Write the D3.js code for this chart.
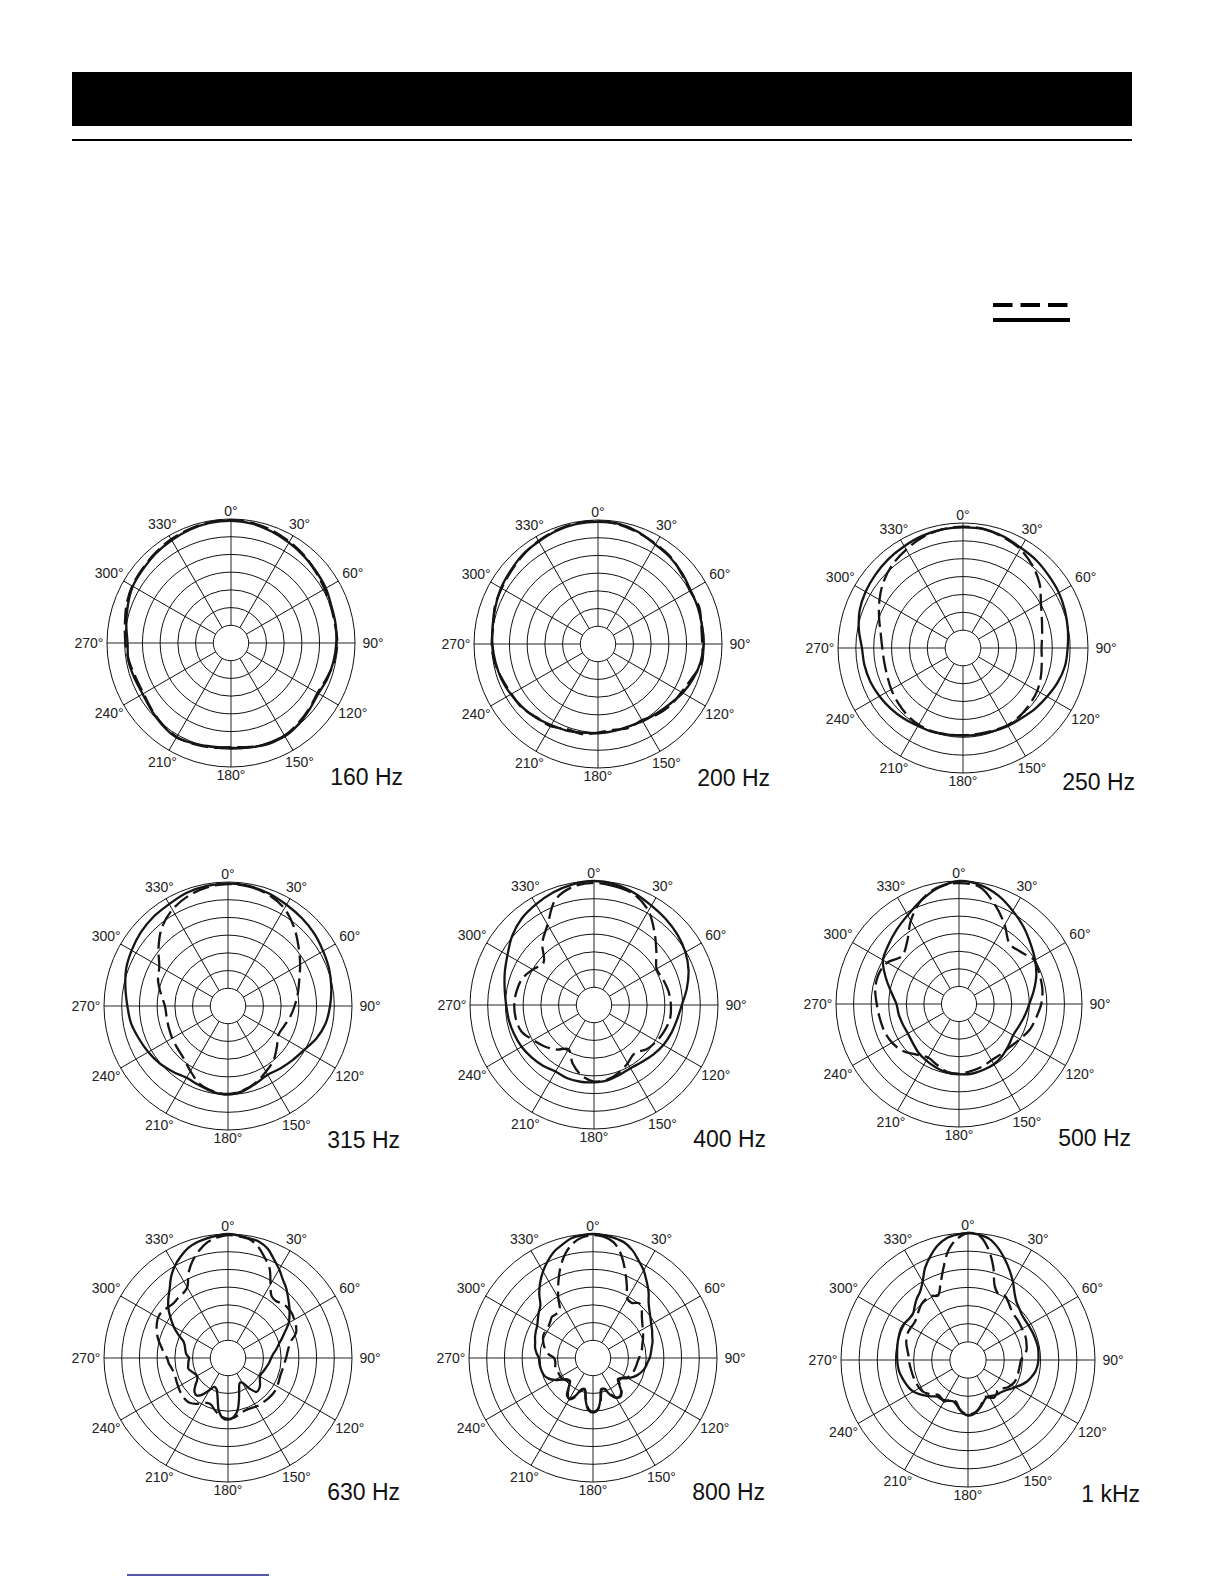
<!DOCTYPE html>
<html>
<head>
<meta charset="utf-8">
<script src="https://cdn.jsdelivr.net/npm/d3@7"></script>
<style>
    body { margin: 0; background: #fff; }
    svg { display: block; }
    text { font-family: "Liberation Sans", Arial, Helvetica, sans-serif; }
</style>
</head>
<body>
<svg id="page" width="1224" height="1584"></svg>
<script>
// Angles (degrees, clockwise from 0 = front)
const angles10 = [0, 10, 20, 30, 40, 50, 60, 70, 80, 90, 100, 110, 120, 130, 140, 150, 160, 170,
    180, 190, 200, 210, 220, 230, 240, 250, 260, 270, 280, 290, 300, 310, 320, 330, 340, 350];
const angles5 = [0, 5, 10, 15, 20, 25, 30, 35, 40, 45, 50, 55, 60, 65, 70, 75, 80, 85,
    90, 95, 100, 105, 110, 115, 120, 125, 130, 135, 140, 145, 150, 155, 160, 165, 170, 175,
    180, 185, 190, 195, 200, 205, 210, 215, 220, 225, 230, 235, 240, 245, 250, 255, 260, 265,
    270, 275, 280, 285, 290, 295, 300, 305, 310, 315, 320, 325, 330, 335, 340, 345, 350, 355];

const angleLabels = ['0°', '30°', '60°', '90°', '120°', '150°', '180°', '210°', '240°', '270°', '300°', '330°'];
const ringDb = [-30, -25, -20, -15, -10, -5, 0];
const frequencies = ['160 Hz', '200 Hz', '250 Hz', '315 Hz', '400 Hz', '500 Hz', '630 Hz', '800 Hz', '1 kHz'];

// Level in dB (solid and dashed traces)
const solid160 = [-0.5, -0.8, -1.5, -2.3, -3.0, -3.6, -4.1, -4.8, -5.0, -5.3, -5.6, -6.0,
    -6.5, -6.0, -5.2, -4.6, -4.8, -5.0, -5.4, -5.3, -4.8, -4.2, -4.8, -5.6,
    -6.2, -6.0, -5.6, -5.8, -5.0, -4.0, -3.0, -2.6, -2.0, -1.5, -1.0, -0.6];
const dashed160 = [-0.3, -0.6, -1.2, -2.0, -2.8, -3.8, -4.5, -5.0, -5.2, -5.0, -5.4, -6.2,
    -6.8, -6.2, -5.5, -4.8, -4.6, -5.2, -5.6, -5.0, -4.6, -4.4, -5.0, -5.8,
    -6.5, -6.4, -5.8, -5.2, -4.6, -3.6, -2.8, -2.4, -1.8, -1.2, -0.8, -0.4];

const solid200 = [-0.5, -0.6, -1.4, -2.6, -3.2, -4.0, -4.8, -5.0, -5.2, -5.2, -5.6, -6.4,
    -7.4, -8.6, -9.4, -9.8, -10.2, -10.0, -9.8, -9.6, -9.0, -8.6, -7.8, -7.2,
    -6.6, -6.0, -5.6, -5.2, -4.8, -4.2, -3.4, -2.8, -2.0, -1.6, -1.0, -0.6];
const dashed200 = [-0.3, -0.8, -1.6, -2.4, -3.0, -4.2, -5.0, -4.6, -5.4, -5.6, -5.2, -6.8,
    -7.8, -8.2, -9.0, -10.2, -9.8, -10.4, -10.0, -9.2, -9.4, -8.2, -8.0, -7.0,
    -6.8, -6.2, -5.4, -5.0, -5.0, -4.0, -3.6, -3.0, -2.2, -1.4, -0.8, -0.4];

const solid250 = [-1.2, -1.2, -1.8, -2.6, -3.0, -3.6, -4.0, -4.6, -5.2, -5.7, -6.0, -6.8,
    -7.8, -8.6, -9.4, -9.8, -10.2, -10.4, -10.5, -10.4, -10.0, -9.8, -9.2, -8.6,
    -8.0, -7.4, -7.0, -6.7, -5.4, -4.2, -3.5, -3.0, -2.5, -2.1, -1.6, -1.3];
const dashed250 = [-1.0, -1.2, -2.0, -3.0, -4.8, -7.0, -9.8, -11.5, -12.5, -13.0, -12.6, -11.8,
    -11.0, -10.6, -10.2, -10.0, -10.4, -10.6, -10.6, -10.4, -10.2, -10.2, -10.6, -11.2,
    -11.8, -12.4, -12.6, -12.4, -11.6, -10.0, -8.0, -6.0, -4.4, -3.2, -2.0, -1.3];

const solid315 = [-0.4, -0.6, -1.2, -2.0, -2.6, -3.2, -4.0, -4.6, -5.4, -6.2, -7.0, -8.4,
    -10.2, -11.2, -12.0, -12.6, -11.8, -10.6, -10.0, -10.4, -11.2, -11.6, -10.8, -9.8,
    -9.0, -8.2, -7.2, -6.6, -5.6, -4.4, -3.6, -2.8, -2.2, -1.8, -1.0, -0.6];
const dashed315 = [-0.6, -0.8, -1.6, -3.2, -6.0, -9.0, -11.5, -13.6, -15.0, -16.2, -17.2, -18.2,
    -18.6, -17.0, -15.0, -13.6, -12.0, -10.8, -10.2, -10.6, -11.6, -13.8, -15.6, -16.4,
    -16.8, -17.2, -17.4, -17.2, -15.8, -14.0, -12.6, -9.4, -6.0, -3.6, -2.0, -1.0];

const solid400 = [0.0, -0.4, -1.4, -2.6, -3.4, -4.2, -5.2, -6.6, -8.4, -10.2, -11.2, -11.8,
    -12.4, -13.2, -14.0, -14.4, -14.0, -13.4, -13.2, -13.0, -13.0, -13.3, -12.6, -12.0,
    -11.4, -11.0, -10.6, -10.2, -9.4, -8.2, -6.8, -4.8, -3.2, -2.2, -1.2, -0.4];
const dashed400 = [-0.5, -1.0, -1.8, -4.3, -8.4, -12.0, -14.6, -14.2, -13.6, -13.3, -13.2, -13.8,
    -14.6, -15.6, -17.2, -16.0, -14.6, -13.6, -13.4, -14.8, -17.4, -20.6, -18.6, -16.8,
    -15.2, -13.2, -12.6, -12.5, -12.8, -13.4, -15.0, -16.4, -12.3, -8.8, -3.3, -1.1];

const solid500 = [0.0, -0.6, -2.2, -4.4, -6.4, -8.4, -10.0, -11.6, -13.4, -15.0, -16.0, -16.8,
    -17.2, -16.6, -15.8, -15.2, -15.0, -14.8, -15.0, -15.2, -15.8, -16.4, -17.0, -17.8,
    -18.2, -18.0, -17.6, -17.2, -15.4, -12.8, -10.0, -8.8, -7.4, -5.8, -3.6, -1.4];
const dashed500 = [-0.6, -1.2, -5.0, -9.0, -12.6, -12.0, -10.2, -10.6, -10.9, -11.6, -12.7, -13.6,
    -15.0, -16.0, -16.4, -16.5, -16.0, -15.6, -15.2, -15.4, -16.6, -17.4, -16.2, -14.2,
    -13.0, -12.4, -12.1, -11.6, -10.8, -10.6, -11.4, -13.8, -12.0, -7.6, -3.6, -1.2];

const solid630 = [0.0, -0.3, -0.7, -1.0, -2.2, -4.3, -6.1, -8.0, -9.4, -11.0, -12.4, -13.8,
    -15.2, -17.2, -18.8, -20.2, -21.2, -22.2, -22.8, -23.2, -23.6, -24.0, -24.3, -24.6,
    -24.6, -24.0, -23.2, -22.6, -22.5, -24.5, -27.0, -27.2, -25.8, -23.0, -19.8, -18.2,
    -17.6, -18.0, -20.0, -23.6, -25.6, -26.0, -24.6, -22.4, -21.2, -21.6, -23.0, -24.4,
    -24.9, -24.6, -24.0, -23.4, -23.6, -23.8, -24.0, -23.2, -22.8, -22.4, -21.7, -19.6,
    -17.3, -15.2, -13.0, -11.2, -9.4, -7.0, -5.0, -3.4, -2.0, -1.2, -0.7, -0.3];
const dashed630 = [-0.3, -0.5, -0.9, -2.4, -4.8, -7.2, -11.0, -13.6, -14.0, -13.2, -13.0, -13.0,
    -13.4, -13.8, -14.6, -16.6, -17.6, -18.2, -18.6, -19.0, -19.2, -19.4, -19.4, -19.2,
    -19.0, -18.8, -18.8, -18.9, -19.0, -19.0, -19.2, -19.4, -19.5, -19.2, -18.6, -18.0,
    -17.8, -18.2, -19.0, -20.0, -21.0, -21.0, -20.2, -19.2, -18.4, -18.2, -18.3, -18.5,
    -18.8, -19.0, -19.2, -19.2, -18.8, -18.2, -17.8, -16.8, -15.8, -14.6, -13.6, -12.8,
    -12.2, -12.2, -12.8, -13.2, -13.0, -12.8, -12.0, -8.6, -5.8, -3.6, -1.8, -0.8];

const solid800 = [0.0, -0.2, -0.6, -1.2, -2.6, -4.6, -6.4, -8.6, -10.6, -12.8, -14.2, -15.2,
    -16.0, -16.6, -17.2, -17.6, -18.2, -18.6, -19.0, -19.6, -20.0, -20.6, -21.4, -22.4,
    -23.6, -25.0, -25.8, -24.6, -22.6, -21.8, -22.0, -23.6, -25.6, -26.0, -23.0, -20.2,
    -19.6, -20.2, -23.0, -26.0, -25.6, -23.2, -21.8, -22.2, -24.4, -25.8, -25.6, -24.4,
    -22.6, -21.2, -20.4, -20.1, -19.9, -19.8, -19.7, -19.0, -18.4, -18.1, -17.6, -17.2,
    -16.8, -16.0, -15.0, -14.0, -11.4, -9.0, -6.8, -4.8, -3.0, -1.8, -0.6, -0.2];
const dashed800 = [-0.3, -0.6, -1.8, -4.6, -8.6, -12.4, -15.6, -16.0, -14.8, -15.6, -17.0, -18.0,
    -18.8, -19.4, -20.0, -20.6, -21.0, -21.6, -22.0, -22.4, -22.6, -22.8, -23.0, -23.4,
    -24.0, -25.2, -25.6, -24.2, -22.4, -21.6, -22.2, -24.0, -25.8, -25.6, -22.6, -20.4,
    -19.8, -20.6, -23.4, -25.8, -25.2, -22.8, -21.6, -22.6, -24.6, -25.6, -25.2, -24.6,
    -24.4, -24.4, -24.2, -24.0, -24.2, -24.3, -24.0, -22.4, -21.4, -20.6, -20.0, -19.6,
    -19.6, -19.6, -19.2, -18.6, -18.8, -18.6, -15.4, -11.8, -8.0, -4.6, -2.2, -0.8];

const solid1k = [0.0, -0.3, -1.1, -3.0, -5.4, -7.8, -10.2, -12.6, -14.2, -15.0, -15.6, -15.8,
    -15.8, -15.7, -15.6, -15.5, -15.4, -15.5, -15.6, -15.8, -16.2, -16.9, -17.7, -18.8,
    -20.0, -21.0, -21.8, -22.3, -22.6, -23.0, -23.5, -23.4, -22.6, -21.6, -20.6, -19.9,
    -19.7, -20.2, -21.2, -22.4, -22.9, -22.6, -22.2, -21.9, -21.8, -20.8, -19.7, -18.6,
    -17.6, -17.0, -16.6, -16.2, -15.8, -15.6, -15.5, -15.4, -15.2, -15.0, -14.8, -14.6,
    -14.8, -15.2, -15.2, -14.2, -13.0, -12.0, -10.0, -7.0, -4.6, -2.4, -0.9, -0.3];
const dashed1k = [0.0, -0.5, -3.6, -8.2, -13.4, -15.0, -14.6, -15.6, -16.6, -17.2, -17.4, -17.6,
    -17.8, -17.8, -18.0, -18.3, -18.6, -19.4, -20.4, -20.6, -20.7, -20.7, -20.7, -20.8,
    -21.2, -21.8, -22.8, -23.4, -22.8, -22.4, -23.0, -23.8, -23.0, -21.8, -20.8, -20.2,
    -20.0, -20.4, -21.4, -22.8, -23.4, -22.8, -21.8, -22.2, -22.4, -21.6, -20.6, -19.8,
    -19.5, -19.4, -19.3, -19.2, -19.1, -18.9, -18.7, -18.5, -18.0, -17.4, -17.0, -16.8,
    -16.9, -17.0, -16.6, -15.8, -15.0, -14.6, -14.6, -15.4, -12.8, -8.8, -4.2, -1.4];

// Panel layout: centre and outer radius of each polar grid (page pixels)
const panels = [
    {cx: 231, cy: 643, r: 124, angles: angles10, solid: solid160, dashed: dashed160},
    {cx: 598, cy: 644, r: 124, angles: angles10, solid: solid200, dashed: dashed200},
    {cx: 963, cy: 648, r: 125, angles: angles10, solid: solid250, dashed: dashed250},
    {cx: 228, cy: 1006, r: 124, angles: angles10, solid: solid315, dashed: dashed315},
    {cx: 594, cy: 1005, r: 124, angles: angles10, solid: solid400, dashed: dashed400},
    {cx: 959, cy: 1004, r: 123, angles: angles10, solid: solid500, dashed: dashed500},
    {cx: 228, cy: 1358, r: 124, angles: angles5, solid: solid630, dashed: dashed630},
    {cx: 593, cy: 1358, r: 124, angles: angles5, solid: solid800, dashed: dashed800},
    {cx: 968, cy: 1360, r: 127, angles: angles5, solid: solid1k, dashed: dashed1k}
];

const svg = d3.select('#page');

// Page furniture: header bar, rule, legend swatches, footer rule
svg.append('rect').attr('x', 72).attr('y', 72).attr('width', 1060).attr('height', 54).attr('fill', '#000');
svg.append('line').attr('x1', 72).attr('x2', 1132).attr('y1', 140).attr('y2', 140)
    .attr('stroke', '#000').attr('stroke-width', 2);
svg.append('line').attr('x1', 993).attr('x2', 1068).attr('y1', 305).attr('y2', 305)
    .attr('stroke', '#000').attr('stroke-width', 4).attr('stroke-dasharray', '19.5,8');
svg.append('line').attr('x1', 993).attr('x2', 1070).attr('y1', 320).attr('y2', 320)
    .attr('stroke', '#000').attr('stroke-width', 4);
svg.append('line').attr('x1', 127).attr('x2', 269).attr('y1', 1575).attr('y2', 1575)
    .attr('stroke', '#1c1c8c').attr('stroke-width', 1.5);

function draw_polar(p, i) {
    const g = svg.append('g').attr('transform', 'translate(' + p.cx + ',' + p.cy + ')');

    const radius = d3.scaleLinear().domain([-30, 0]).range([p.r / 7, p.r]).clamp(true);
    const spokeAngles = angleLabels.map(l => parseInt(l));

    // spokes from inner circle to outer ring
    g.selectAll('.spoke')
        .data(spokeAngles)
        .join('line')
        .attr('class', 'spoke')
        .attr('x1', a => radius(-30) * Math.sin(a * Math.PI / 180))
        .attr('y1', a => -radius(-30) * Math.cos(a * Math.PI / 180))
        .attr('x2', a => radius(0) * Math.sin(a * Math.PI / 180))
        .attr('y2', a => -radius(0) * Math.cos(a * Math.PI / 180))
        .attr('stroke', a => (a % 90 === 0 ? '#6e6e6e' : '#111'))
        .attr('stroke-width', a => (a % 90 === 0 ? 1.5 : 1));

    // rings every 5 dB
    g.selectAll('.ring')
        .data(ringDb)
        .join('circle')
        .attr('class', 'ring')
        .attr('r', d => radius(d))
        .attr('fill', d => (d === -30 ? '#fff' : 'none'))
        .attr('stroke', '#111')
        .attr('stroke-width', 1);

    // angle labels
    g.selectAll('.angle-label')
        .data(angleLabels)
        .join('text')
        .attr('class', 'angle-label')
        .attr('x', l => {
            const a = parseInt(l) * Math.PI / 180;
            return (p.r + 8 + 10 * Math.abs(Math.sin(a))) * Math.sin(a);
        })
        .attr('y', l => {
            const a = parseInt(l) * Math.PI / 180;
            return -(p.r + 8 + 10 * Math.abs(Math.sin(a))) * Math.cos(a);
        })
        .attr('text-anchor', 'middle')
        .attr('dominant-baseline', 'central')
        .attr('font-size', 14)
        .attr('fill', '#222')
        .text(l => l);

    // response traces
    const line = d3.lineRadial()
        .angle(d => d.a * Math.PI / 180)
        .radius(d => radius(d.db))
        .curve(d3.curveCatmullRomClosed.alpha(0.5));

    const solidPts = p.angles.map((a, k) => ({a: a, db: p.solid[k]}));
    const dashedPts = p.angles.map((a, k) => ({a: a, db: p.dashed[k]}));

    g.append('path')
        .attr('d', line(dashedPts))
        .attr('fill', 'none')
        .attr('stroke', '#151515')
        .attr('stroke-width', 2.3)
        .attr('stroke-dasharray', '17,6');

    g.append('path')
        .attr('d', line(solidPts))
        .attr('fill', 'none')
        .attr('stroke', '#151515')
        .attr('stroke-width', 2.3)
        .attr('stroke-linejoin', 'round');

    // frequency caption
    g.append('text')
        .attr('x', 172)
        .attr('y', 142)
        .attr('text-anchor', 'end')
        .attr('font-size', 23)
        .attr('fill', '#111')
        .text(frequencies[i]);
}

panels.forEach(draw_polar);
</script>
</body>
</html>
